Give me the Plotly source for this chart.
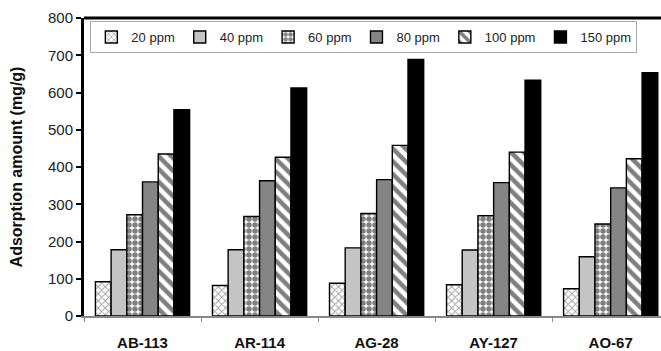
import plotly.graph_objects as go

# Dyes and initial concentrations
dyes = ["AB-113", "AR-114", "AG-28", "AY-127", "AO-67"]
concentrations = ["20 ppm", "40 ppm", "60 ppm", "80 ppm", "100 ppm", "150 ppm"]

# Adsorption amount (mg/g) per concentration, one value per dye
q_20 = [92, 82, 88, 84, 73]
q_40 = [178, 178, 183, 177, 159]
q_60 = [272, 267, 275, 269, 247]
q_80 = [360, 363, 366, 358, 344]
q_100 = [435, 426, 458, 440, 422]
q_150 = [554, 612, 689, 633, 653]

series = [q_20, q_40, q_60, q_80, q_100, q_150]

# Fill style for each concentration
styles = [
    dict(color="white", pattern=dict(shape="x", fgcolor="#444444", size=5, solidity=0.35)),
    dict(color="#c4c4c4", pattern=None),
    dict(color="white", pattern=dict(shape=".", fgcolor="black", size=6, solidity=0.65)),
    dict(color="#858585", pattern=None),
    dict(color="white", pattern=dict(shape="\\", fgcolor="black", size=9, solidity=0.5)),
    dict(color="black", pattern=None),
]

fig = go.Figure()
for name, vals, st in zip(concentrations, series, styles):
    marker = dict(color=st["color"], line=dict(color="black", width=1.4))
    if st["pattern"] is not None:
        marker["pattern"] = dict(fillmode="overlay", **st["pattern"])
    fig.add_trace(go.Bar(x=dyes, y=vals, name=name, marker=marker))

fig.update_layout(
    width=661,
    height=351,
    margin=dict(l=84, r=0, t=18, b=31),
    paper_bgcolor="white",
    plot_bgcolor="white",
    barmode="group",
    bargap=0.195,
    bargroupgap=0,
    font=dict(family="Liberation Sans, Arial, sans-serif", color="#222222"),
    showlegend=True,
    legend=dict(
        orientation="h",
        x=0.011,
        y=0.99,
        xanchor="left",
        yanchor="top",
        bgcolor="white",
        bordercolor="#aaaaaa",
        borderwidth=1,
        font=dict(size=13, color="#222222"),
        itemwidth=30,
        tracegroupgap=0,
        traceorder="normal",
    ),
    xaxis=dict(
        range=[-0.5, 4.43],
        showline=True,
        linecolor="#888888",
        linewidth=2,
        ticks="outside",
        tickson="boundaries",
        ticklen=4,
        tickcolor="#888888",
        ticklabelstandoff=12,
        tickfont=dict(size=15, color="#111111", family="Liberation Sans, Arial, sans-serif"),
        showgrid=False,
        zeroline=False,
    ),
    yaxis=dict(
        range=[0, 800],
        tickvals=[0, 100, 200, 300, 400, 500, 600, 700, 800],
        showline=True,
        linecolor="black",
        linewidth=3,
        ticks="outside",
        ticklen=5,
        tickwidth=2,
        tickcolor="black",
        tickfont=dict(size=15, color="#222222"),
        showgrid=False,
        zeroline=False,
        title=dict(
            text="<b>Adsorption amount (mg/g)</b>",
            font=dict(size=16, color="#111111"),
            standoff=22,
        ),
    ),
    shapes=[
        dict(type="line", xref="paper", yref="paper", x0=0, x1=1, y0=1, y1=1,
             line=dict(color="black", width=3)),
    ],
)

fig.update_xaxes(ticktext=[f"<b>{d}</b>" for d in dyes], tickvals=dyes)

fig.write_html("out.html")
